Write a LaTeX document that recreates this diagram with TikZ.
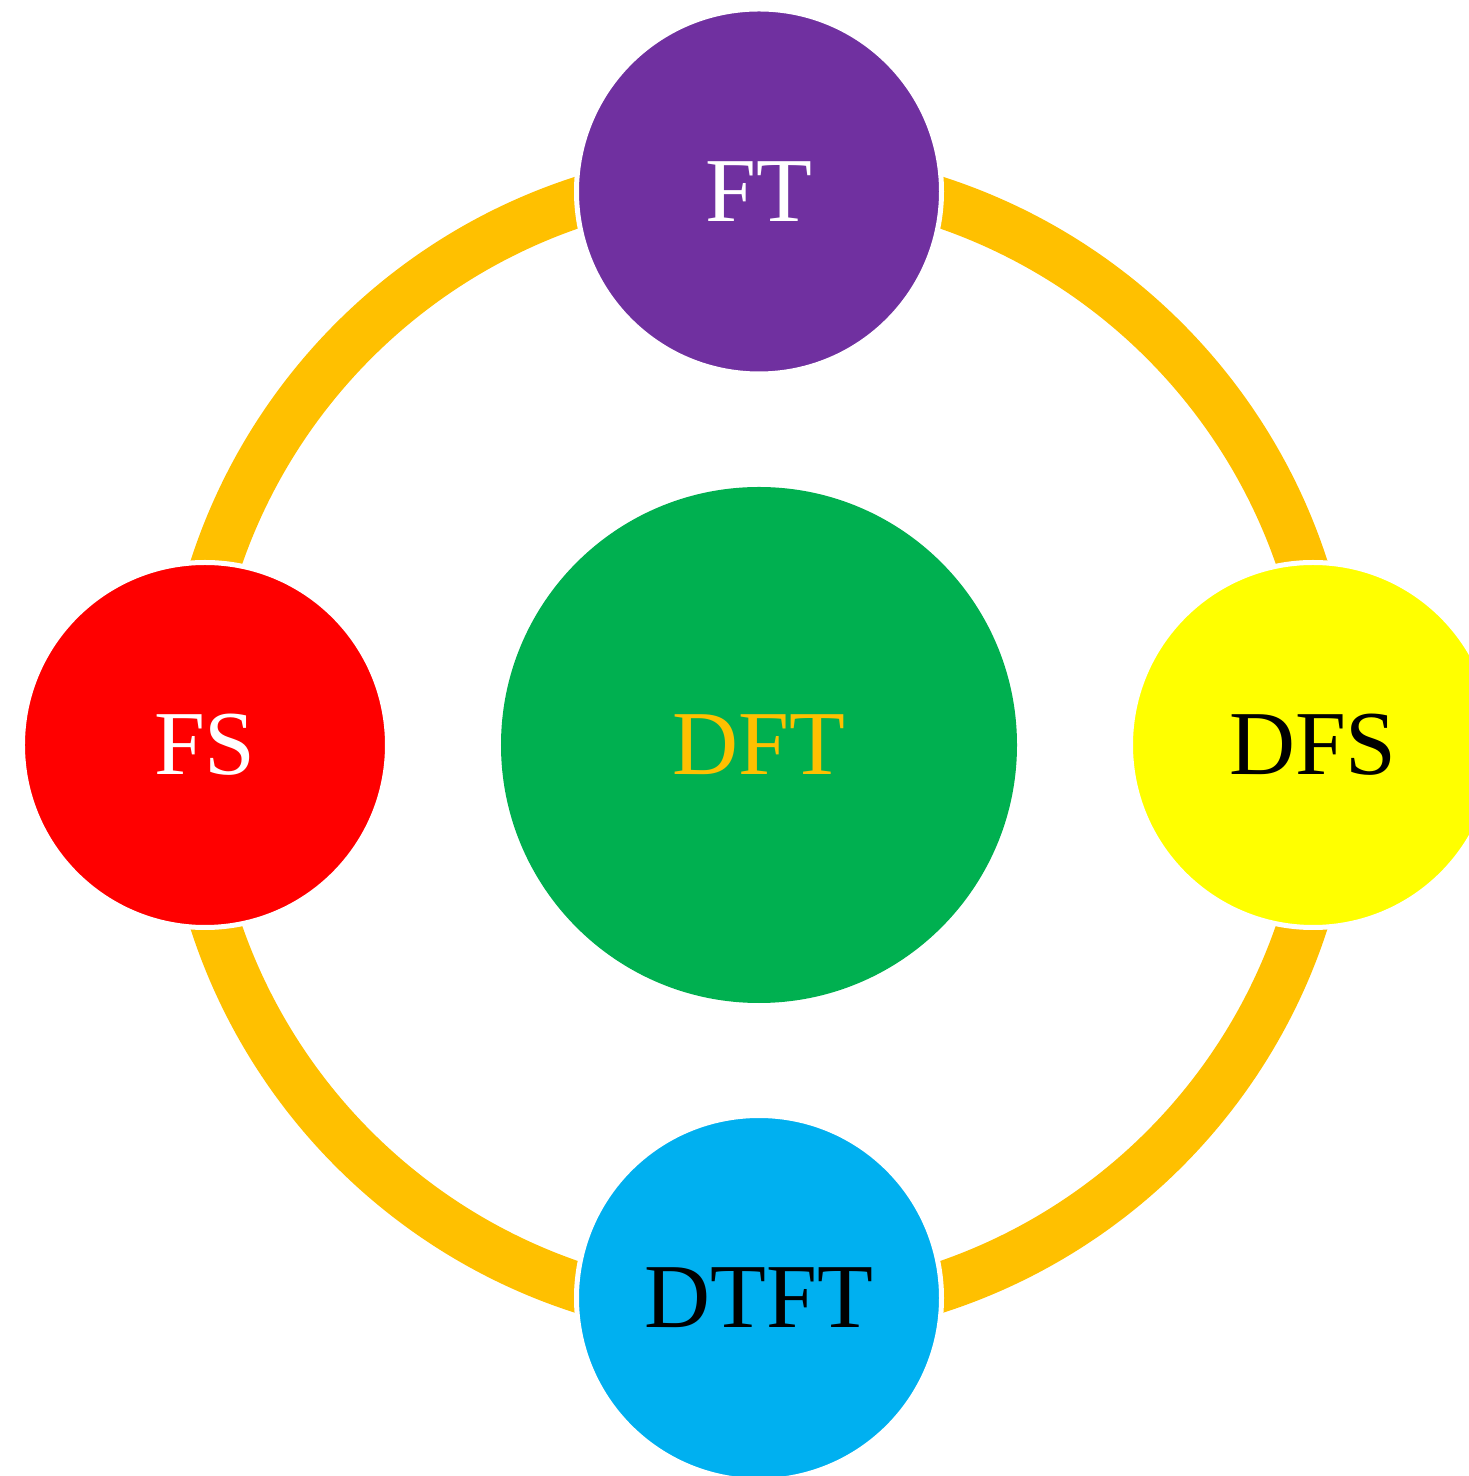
\documentclass[tikz,border=0pt]{standalone}
\usepackage{fontspec}
\setmainfont{Liberation Serif}
\usepackage{xcolor}
\usetikzlibrary{calc, backgrounds}

\definecolor{ftpurple}{HTML}{7030A0}
\definecolor{fsred}{HTML}{FF0000}
\definecolor{dfsyellow}{HTML}{FFFF00}
\definecolor{dtftblue}{HTML}{00B0F0}
\definecolor{dftgreen}{HTML}{00B050}
\definecolor{ringorange}{HTML}{FFC000}

\begin{document}
\begin{tikzpicture}[
  sat/.style = {circle, minimum size=3.65cm, inner sep=0pt, draw=white,
    line width=0.05cm, font=\fontsize{26}{30}\selectfont},
  ring/.style = {draw=ringorange, line width=0.5cm}
]

  % Fix the picture size
  \useasboundingbox (-7.59,-7.31) rectangle (7.09,7.45);

  % Define the centre
  \coordinate (O) at (0,0);

  % Draw the outer circles
  \node[sat, fill=ftpurple, text=white] (FT) at (0,5.535) {FT};
  \node[sat, fill=fsred, text=white] (FS) at (-5.54,0) {FS};
  \node[sat, fill=dfsyellow, text=black] (DFS) at (5.54,0) {DFS};
  \node[sat, fill=dtftblue, text=black] (DTFT) at (0,-5.53) {DTFT};

  % Draw the centre circle
  \node[circle, minimum size=5.16cm, inner sep=0pt, fill=dftgreen,
    text=ringorange, font=\fontsize{26}{30}\selectfont] (DFT) at (O) {DFT};

  % Points on the ring, just outside the circle centres
  \coordinate (rT) at ($(DFT)!1.033!(FT)$);
  \coordinate (rL) at ($(DFT)!1.033!(FS)$);
  \coordinate (rB) at ($(DFT)!1.033!(DTFT)$);
  \coordinate (rR) at ($(DFT)!1.033!(DFS)$);

  % Draw the ring behind the circles
  \begin{scope}[on background layer]
    \draw[ring] (rT) to[bend right=45] (rL) to[bend right=45] (rB)
      to[bend right=45] (rR) to[bend right=45] (rT);
  \end{scope}

\end{tikzpicture}
\end{document}
